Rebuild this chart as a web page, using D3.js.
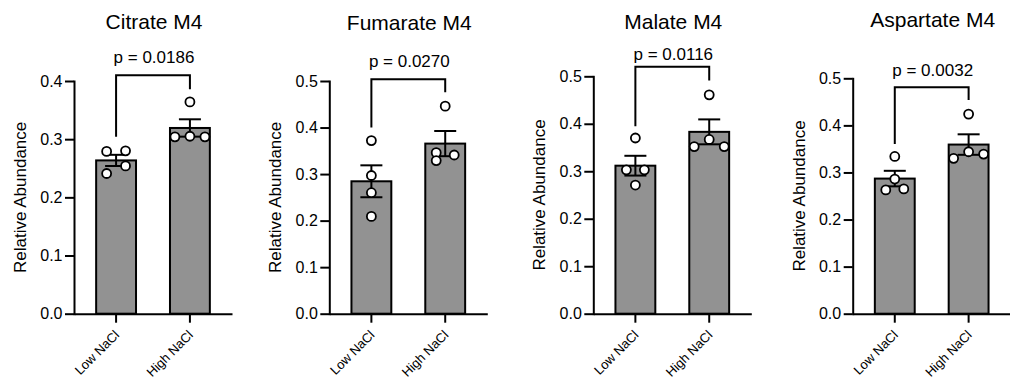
<!DOCTYPE html>
<html>
<head>
<meta charset="utf-8">
<script src="https://cdn.jsdelivr.net/npm/d3@7"></script>
<style>
  body { margin: 0; background: #fff; }
  svg { display: block; font-family: "Liberation Sans", Arial, sans-serif; }
</style>
</head>
<body>
<svg id="chart" width="1010" height="381"></svg>
<script>
// ---- data ----
var categories = ['Low NaCl', 'High NaCl'];
var titles = ['Citrate M4', 'Fumarate M4', 'Malate M4', 'Aspartate M4'];
var pLabels = ['p = 0.0186', 'p = 0.0270', 'p = 0.0116', 'p = 0.0032'];
var yMax = [0.4, 0.5, 0.5, 0.5];
var yTicks = [
  [0, 0.1, 0.2, 0.3, 0.4],
  [0, 0.1, 0.2, 0.3, 0.4, 0.5],
  [0, 0.1, 0.2, 0.3, 0.4, 0.5],
  [0, 0.1, 0.2, 0.3, 0.4, 0.5]
];

// replicate values (relative abundance), low then high NaCl
var citrateLow = [0.279, 0.280, 0.241, 0.254];
var citrateHigh = [0.364, 0.304, 0.305, 0.304];
var fumarateLow = [0.372, 0.297, 0.260, 0.209];
var fumarateHigh = [0.446, 0.346, 0.329, 0.341];
var malateLow = [0.370, 0.303, 0.303, 0.271];
var malateHigh = [0.461, 0.352, 0.367, 0.352];
var aspartateLow = [0.334, 0.286, 0.263, 0.265];
var aspartateHigh = [0.424, 0.330, 0.344, 0.339];

// significance brackets, in data units
var bracketTop = [0.410, 0.504, 0.520, 0.481];
var bracketLeft = [0.304, 0.400, 0.395, 0.3605];
var bracketRight = [0.386, 0.476, 0.491, 0.454];

var series = [
  [citrateLow, citrateHigh],
  [fumarateLow, fumarateHigh],
  [malateLow, malateHigh],
  [aspartateLow, aspartateHigh]
];

// ---- layout ----
var panelX = [74, 329.3, 593.3, 852.7];
var panelTop = [81, 81, 76.3, 78.3];
var axisY = 313.7;
var titleY = [29, 30, 28.5, 27];
var pGap = [11.7, 12.6, 7, 11.6];
var slotWidth = 15;
// horizontal scatter slot of each point (so they don't overlap)
var slots = [
  [[-0.63, 0.63, -0.63, 0.63], [0, -1, 0, 1]],
  [[0, 0, 0, 0], [0, -0.6, -0.6, 0.6]],
  [[0, -0.6, 0.6, 0], [0, -1, 0, 1]],
  [[0, 0, -0.6, 0.6], [0, -1, 0, 1]]
];

var svg = d3.select('#chart');
var fontFamily = '"Liberation Sans", Arial, sans-serif';

function mean(a) { return d3.mean(a); }
function sem(a) { return d3.deviation(a) / Math.sqrt(a.length); }

function drawPanel(i) {
  var x0 = panelX[i];
  var g = svg.append('g');

  var y = d3.scaleLinear().domain([0, yMax[i]]).range([axisY, panelTop[i]]);
  var x = d3.scaleBand().domain(categories)
    .range([x0, x0 + 158]).paddingInner(0.46).paddingOuter(0.3);
  var bw = x.bandwidth();

  var groups = categories.map(function(c, k) {
    var vals = series[i][k];
    return { cat: c, vals: vals, m: mean(vals), s: sem(vals), k: k };
  });

  // bars
  g.selectAll('rect.bar').data(groups).enter().append('rect')
    .attr('class', 'bar')
    .attr('x', function(d) { return x(d.cat); })
    .attr('y', function(d) { return y(d.m); })
    .attr('width', bw)
    .attr('height', function(d) { return y(0) - y(d.m); })
    .attr('fill', '#929292')
    .attr('stroke', '#000')
    .attr('stroke-width', 2);

  // error bars (mean +/- SEM)
  groups.forEach(function(d) {
    var cx = x(d.cat) + bw / 2;
    var eb = g.append('g').attr('stroke', '#000').attr('stroke-width', 2).attr('fill', 'none');
    eb.append('line').attr('x1', cx).attr('x2', cx)
      .attr('y1', y(d.m - d.s)).attr('y2', y(d.m + d.s));
    [d.m - d.s, d.m + d.s].forEach(function(v) {
      eb.append('line').attr('x1', cx - 11).attr('x2', cx + 11)
        .attr('y1', y(v)).attr('y2', y(v));
    });
  });

  // replicate points
  groups.forEach(function(d) {
    var cx = x(d.cat) + bw / 2;
    g.selectAll(null).data(d.vals).enter().append('circle')
      .attr('cx', function(v, j) { return cx + slots[i][d.k][j] * slotWidth; })
      .attr('cy', function(v) { return y(v); })
      .attr('r', 4.5)
      .attr('fill', '#fff')
      .attr('stroke', '#000')
      .attr('stroke-width', 1.8);
  });

  // y axis
  var ya = g.append('g')
    .attr('transform', 'translate(' + x0 + ',0)')
    .call(d3.axisLeft(y).tickValues(yTicks[i]).tickFormat(d3.format('.1f'))
      .tickSize(9).tickSizeOuter(0).tickPadding(2.5));
  ya.attr('font-size', 16).attr('font-family', fontFamily);
  ya.selectAll('path, line').attr('stroke', '#000').attr('stroke-width', 2);
  ya.select('.domain').attr('stroke-linecap', 'square');
  ya.selectAll('text').attr('fill', '#000');

  // x axis
  var xa = g.append('g')
    .attr('transform', 'translate(0,' + axisY + ')')
    .call(d3.axisBottom(x).tickSize(9).tickSizeOuter(0));
  xa.attr('font-size', 13).attr('font-family', fontFamily);
  xa.selectAll('path, line').attr('stroke', '#000').attr('stroke-width', 2);
  xa.selectAll('text')
    .attr('fill', '#000')
    .attr('x', 0).attr('y', 0).attr('dy', 0)
    .attr('text-anchor', 'end')
    .attr('transform', 'translate(4,22) rotate(-45)');

  // y axis title
  g.append('text')
    .attr('transform', 'translate(' + (x0 - 48) + ',' + ((y(0) + y(yMax[i])) / 2) + ') rotate(-90)')
    .attr('text-anchor', 'middle')
    .attr('font-size', 17)
    .attr('fill', '#000')
    .text('Relative Abundance');

  // significance bracket
  var xl = x(categories[0]) + bw / 2;
  var xr = x(categories[1]) + bw / 2;
  g.append('path')
    .attr('d', 'M' + xl + ',' + y(bracketLeft[i]) +
               'V' + y(bracketTop[i]) +
               'H' + xr +
               'V' + y(bracketRight[i]))
    .attr('fill', 'none')
    .attr('stroke', '#000')
    .attr('stroke-width', 2);

  g.append('text')
    .attr('x', (xl + xr) / 2 + 1)
    .attr('y', y(bracketTop[i]) - pGap[i])
    .attr('text-anchor', 'middle')
    .attr('font-size', 17)
    .attr('fill', '#000')
    .text(pLabels[i]);

  // panel title
  g.append('text')
    .attr('x', x0 + 80)
    .attr('y', titleY[i])
    .attr('text-anchor', 'middle')
    .attr('font-size', 21)
    .attr('fill', '#000')
    .text(titles[i]);
}

for (var i = 0; i < titles.length; i++) drawPanel(i);
</script>
</body>
</html>
